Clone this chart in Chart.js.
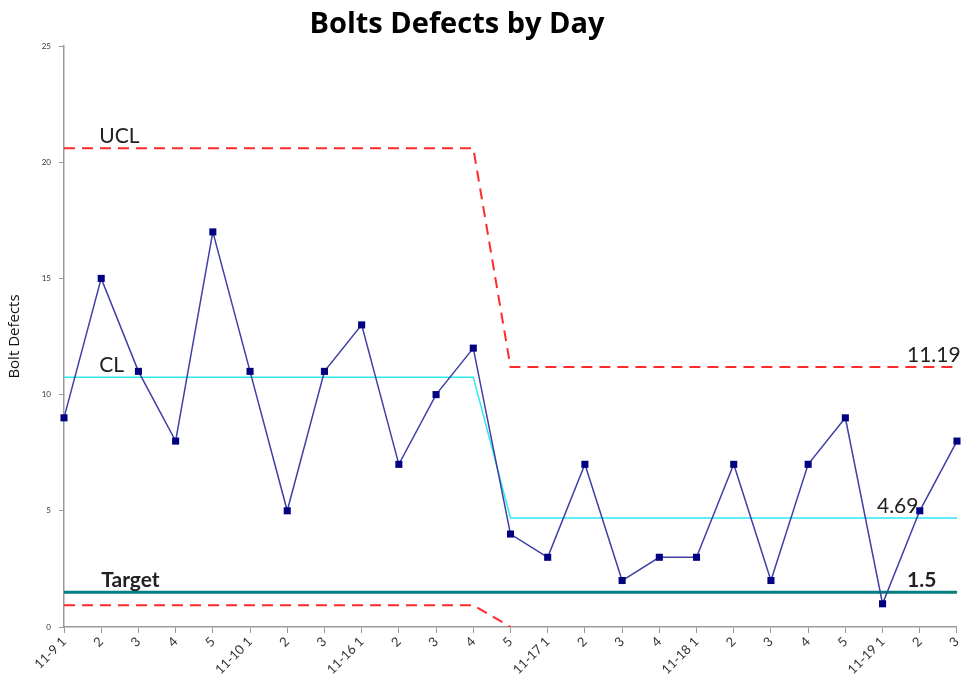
<!DOCTYPE html>
<html>
<head>
<meta charset="utf-8">
<script src="https://cdn.jsdelivr.net/npm/chart.js@4"></script>
<style>
  html, body { margin: 0; padding: 0; background: #fff; }
  #wrap { width: 969px; height: 687px; }
</style>
</head>
<body>
<div id="wrap"><canvas id="myChart"></canvas></div>
<script>
const chartTitle = "Bolts Defects by Day";
const days = ["11-9 1", "2", "3", "4", "5", "11-10 1", "2", "3", "11-16 1", "2", "3", "4", "5",
  "11-17 1", "2", "3", "4", "11-18 1", "2", "3", "4", "5", "11-19 1", "2", "3"];
const defects = [9, 15, 11, 8, 17, 11, 5, 11, 13, 7, 10, 12, 4, 3, 7, 2, 3, 3, 7, 2, 7, 9, 1, 5, 8];
const ucl = [20.6, 20.6, 20.6, 20.6, 20.6, 20.6, 20.6, 20.6, 20.6, 20.6, 20.6, 20.6,
  11.19, 11.19, 11.19, 11.19, 11.19, 11.19, 11.19, 11.19, 11.19, 11.19, 11.19, 11.19, 11.19];
const cl = [10.75, 10.75, 10.75, 10.75, 10.75, 10.75, 10.75, 10.75, 10.75, 10.75, 10.75, 10.75,
  4.69, 4.69, 4.69, 4.69, 4.69, 4.69, 4.69, 4.69, 4.69, 4.69, 4.69, 4.69, 4.69];
const lcl = [0.94, 0.94, 0.94, 0.94, 0.94, 0.94, 0.94, 0.94, 0.94, 0.94, 0.94, 0.94,
  0, null, null, null, null, null, null, null, null, null, null, null, null];
const target = [1.5, 1.5, 1.5, 1.5, 1.5, 1.5, 1.5, 1.5, 1.5, 1.5, 1.5, 1.5, 1.5,
  1.5, 1.5, 1.5, 1.5, 1.5, 1.5, 1.5, 1.5, 1.5, 1.5, 1.5, 1.5];

// text labels next to the control lines
const lineLabels = [
  { text: "UCL", index: 1, value: ucl[0], bold: false, dx: -2 },
  { text: "CL", index: 1, value: cl[0], bold: false, dx: -2 },
  { text: "Target", index: 1, value: target[0], bold: true, dx: 0 },
  { text: "11.19", index: 24, value: ucl[24], bold: false, dx: -50 },
  { text: "4.69", index: 24, value: cl[24], bold: false, dx: -80 },
  { text: "1.5", index: 24, value: target[24], bold: true, dx: -50 },
];

const labelPlugin = {
  id: "lineLabels",
  afterDatasetsDraw: (chart) => {
    const { ctx, scales } = chart;
    ctx.save();
    ctx.fillStyle = "#222";
    ctx.textBaseline = "alphabetic";
    lineLabels.forEach((l) => {
      const x = scales.x.getPixelForValue(l.index) + l.dx;
      const y = scales.y.getPixelForValue(l.value) - 5;
      ctx.font = l.bold ? "bold 21px Lato" : "21px Lato";
      ctx.fillText(l.text, x, y);
    });
    // title
    ctx.fillStyle = "#000";
    ctx.textAlign = "center";
    ctx.font = "bold 29px 'Open Sans'";
    ctx.fillText(chartTitle, 457, 33);
    ctx.restore();
  },
};

const ctx = document.getElementById("myChart");

new Chart(ctx, {
  type: "line",
  data: {
    labels: days,
    datasets: [
      {
        label: "Bolt Defects",
        data: defects,
        borderColor: "#3f3fa6",
        borderWidth: 1.5,
        pointStyle: "rect",
        pointRadius: 5,
        pointBackgroundColor: "#000080",
        pointBorderColor: "#000080",
        pointBorderWidth: 0,
      },
      {
        label: "UCL",
        data: ucl,
        borderColor: "#ff2a2a",
        borderWidth: 2,
        borderDash: [11, 7],
        pointRadius: 0,
      },
      {
        label: "CL",
        data: cl,
        borderColor: "#2ee8f2",
        borderWidth: 1.5,
        pointRadius: 0,
      },
      {
        label: "LCL",
        data: lcl,
        borderColor: "#ff2a2a",
        borderWidth: 2,
        borderDash: [11, 7],
        pointRadius: 0,
      },
      {
        label: "Target",
        data: target,
        borderColor: "#008080",
        borderWidth: 3,
        pointRadius: 0,
      },
    ],
  },
  options: {
    responsive: true,
    maintainAspectRatio: false,
    animation: false,
    layout: { padding: { left: 0, right: 12, top: 46, bottom: 0 } },
    plugins: {
      legend: { display: false },
      tooltip: { enabled: false },
      title: { display: false },
    },
    scales: {
      x: {
        offset: false,
        grid: {
          display: true,
          drawOnChartArea: false,
          tickLength: 6,
          color: "#999",
        },
        border: { color: "#999", width: 1.5 },
        ticks: {
          autoSkip: false,
          minRotation: 45,
          maxRotation: 45,
          color: "#333",
          font: { family: "Lato", size: 13 },
          padding: 1,
        },
        afterFit: (scale) => {
          scale.height = 60;
        },
      },
      y: {
        min: 0,
        max: 25,
        grid: {
          display: true,
          drawOnChartArea: false,
          tickLength: 5,
          color: "#999",
        },
        border: { color: "#999", width: 1.5 },
        ticks: {
          stepSize: 5,
          color: "#333",
          font: { family: "Lato", size: 8 },
          padding: 8,
        },
        title: {
          display: true,
          text: "Bolt Defects",
          color: "#111",
          font: { family: "Open Sans", size: 15 },
          padding: { top: 6, bottom: 0 },
        },
        afterFit: (scale) => {
          scale.width = 64;
        },
      },
    },
  },
  plugins: [labelPlugin],
});
</script>
</body>
</html>
